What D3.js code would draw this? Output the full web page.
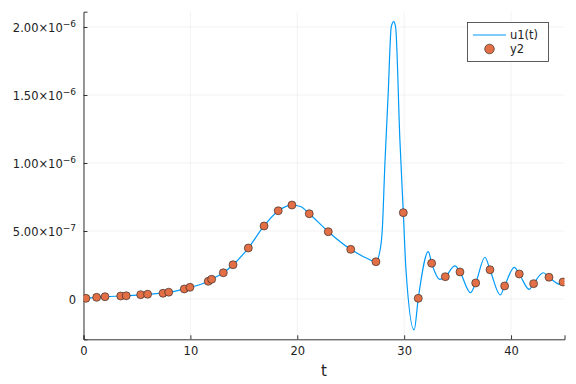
<!DOCTYPE html>
<html>
<head>
<meta charset="utf-8">
<script src="https://cdn.jsdelivr.net/npm/d3@7"></script>
<style>
  body { margin: 0; background: #fff; }
  text { font-family: "DejaVu Sans", sans-serif; }
</style>
</head>
<body>
<div id="chart"></div>
<script>
// values in units of 1e-7

// u1(t) curve
const lineT = [0, 0.23, 1.23, 2, 3.5, 4, 5.35, 6, 7.44, 8, 9.43, 10, 11.67, 12, 13.08, 14, 15.42, 16.89, 18.22,
  19.5, 20.3, 21.12, 22.9, 25, 26.5, 27.36, 27.8, 27.95, 28.2, 28.5, 28.79, 29.02, 29.2, 29.6, 29.92, 30.17,
  30.93, 31.32, 32.26, 32.57, 33.35, 33.85, 34.75, 35.22, 36.2, 36.69, 37.56, 38.03, 39.0, 39.4, 40.3, 40.77,
  41.7, 42.11, 43.01, 43.55, 44.57, 45];
const lineU = [0.03, 0.05, 0.12, 0.16, 0.22, 0.24, 0.31, 0.35, 0.43, 0.48, 0.74, 0.86, 1.3, 1.45, 1.93, 2.52, 3.75, 5.37, 6.49,
  6.91, 6.8, 6.27, 4.95, 3.65, 3.0, 2.74, 3.84, 5.07, 10.0, 15.0, 20.0, 20.4, 20.0, 11.7, 6.35, 2.13,
  -2.28, 0.05, 3.48, 2.63, 1.45, 1.64, 2.43, 1.99, 0.46, 1.18, 3.07, 2.15, 0.3, 0.96, 2.33, 1.84,
  0.71, 1.13, 1.93, 1.6, 1.08, 1.3];

// y2 samples
const y2T = [0.23, 1.23, 2.01, 3.48, 4.0, 5.35, 6.0, 7.44, 7.97, 9.43, 9.96, 11.67, 11.99, 13.08, 13.99, 15.42,
  16.89, 18.22, 19.5, 21.12, 22.9, 25.0, 27.36, 29.92, 31.32, 32.57, 33.85, 35.22, 36.69, 38.03, 39.4, 40.77,
  42.11, 43.55, 44.86];
const y2V = [0.05, 0.12, 0.17, 0.22, 0.24, 0.32, 0.35, 0.42, 0.5, 0.74, 0.86, 1.3, 1.45, 1.93, 2.52, 3.75,
  5.37, 6.49, 6.91, 6.27, 4.95, 3.65, 2.74, 6.35, 0.05, 2.63, 1.64, 1.99, 1.18, 2.15, 0.96, 1.84,
  1.13, 1.6, 1.25];

const xTicks = [0, 10, 20, 30, 40];
const yTicks = [0, 5, 10, 15, 20];
const yTickMant = ["0", "5.00", "1.00", "1.50", "2.00"];
const yTickExp = ["", "\u22127", "\u22126", "\u22126", "\u22126"];

const W = 576, H = 384;
const pLeft = 83.5, pRight = 564.5, pTop = 11.7, pBottom = 339.3;

const x = d3.scaleLinear().domain([0, 45]).range([pLeft, pRight]);
const y = d3.scaleLinear().domain([-2.963, 21.125]).range([pBottom, pTop]);

const svg = d3.select("#chart").append("svg")
  .attr("width", W)
  .attr("height", H);

svg.append("defs").append("clipPath").attr("id", "clip")
  .append("rect").attr("x", pLeft).attr("y", pTop).attr("width", pRight - pLeft).attr("height", pBottom - pTop);

// grid
svg.append("g").selectAll("line").data(xTicks).enter().append("line")
  .attr("x1", d => x(d)).attr("x2", d => x(d)).attr("y1", pTop).attr("y2", pBottom)
  .attr("stroke", "#000").attr("stroke-opacity", 0.1).attr("stroke-width", 0.5);
svg.append("g").selectAll("line").data(yTicks).enter().append("line")
  .attr("x1", pLeft).attr("x2", pRight).attr("y1", d => y(d)).attr("y2", d => y(d))
  .attr("stroke", "#000").attr("stroke-opacity", 0.1).attr("stroke-width", 0.5);

// axes
const xAxis = d3.axisBottom(x).tickValues(xTicks).tickSize(-4).tickPadding(8).tickFormat(d3.format("d"));
const gx = svg.append("g").attr("transform", `translate(0,${pBottom})`).call(xAxis);
gx.select(".domain").attr("stroke", "#333").attr("stroke-width", 1);
gx.selectAll(".tick line").attr("stroke", "#333");
gx.selectAll(".tick text").attr("font-size", 11.5).attr("fill", "#222")
  .attr("font-family", "DejaVu Sans, sans-serif");

const yAxis = d3.axisLeft(y).tickValues(yTicks).tickSize(-4).tickFormat("");
const gy = svg.append("g").attr("transform", `translate(${pLeft},0)`).call(yAxis);
gy.select(".domain").attr("stroke", "#333").attr("stroke-width", 1);
gy.selectAll(".tick line").attr("stroke", "#333");

// y tick labels with superscript exponent
const yl = svg.append("g").selectAll("text").data(yTicks).enter().append("text")
  .attr("x", 76)
  .attr("y", d => y(d) + 5)
  .attr("text-anchor", "end")
  .attr("font-size", 11.5)
  .attr("fill", "#222");
yl.append("tspan").text((d, i) => yTickMant[i] + (yTickExp[i] ? "\u00d710" : ""));
yl.append("tspan").attr("dy", -5).attr("font-size", 9).text((d, i) => yTickExp[i]);

// x label
svg.append("text").attr("x", (pLeft + pRight) / 2).attr("y", 376)
  .attr("text-anchor", "middle").attr("font-size", 15).attr("fill", "#222").text("t");

// u1(t)
const line = d3.line()
  .x((d, i) => x(lineT[i]))
  .y(d => y(d))
  .curve(d3.curveMonotoneX);
svg.append("path")
  .datum(lineU)
  .attr("clip-path", "url(#clip)")
  .attr("d", line)
  .attr("fill", "none")
  .attr("stroke", "#009AFA")
  .attr("stroke-width", 1.2);

// y2
svg.append("g").attr("clip-path", "url(#clip)")
  .selectAll("circle").data(y2V).enter().append("circle")
  .attr("cx", (d, i) => x(y2T[i]))
  .attr("cy", d => y(d))
  .attr("r", 4)
  .attr("fill", "#E26F46")
  .attr("stroke", "#222")
  .attr("stroke-width", 0.6);

// legend
const lg = svg.append("g");
lg.append("rect").attr("x", 467.5).attr("y", 22.5).attr("width", 81).attr("height", 39)
  .attr("fill", "#fff").attr("stroke", "#333").attr("stroke-width", 0.8);
lg.append("line").attr("x1", 473).attr("x2", 506).attr("y1", 35).attr("y2", 35)
  .attr("stroke", "#009AFA").attr("stroke-width", 1.2);
lg.append("text").attr("x", 510).attr("y", 39).attr("font-size", 11.5).attr("fill", "#222").text("u1(t)");
lg.append("circle").attr("cx", 489.5).attr("cy", 49).attr("r", 4.8)
  .attr("fill", "#E26F46").attr("stroke", "#222").attr("stroke-width", 0.6);
lg.append("text").attr("x", 510).attr("y", 53).attr("font-size", 11.5).attr("fill", "#222").text("y2");
</script>
</body>
</html>
